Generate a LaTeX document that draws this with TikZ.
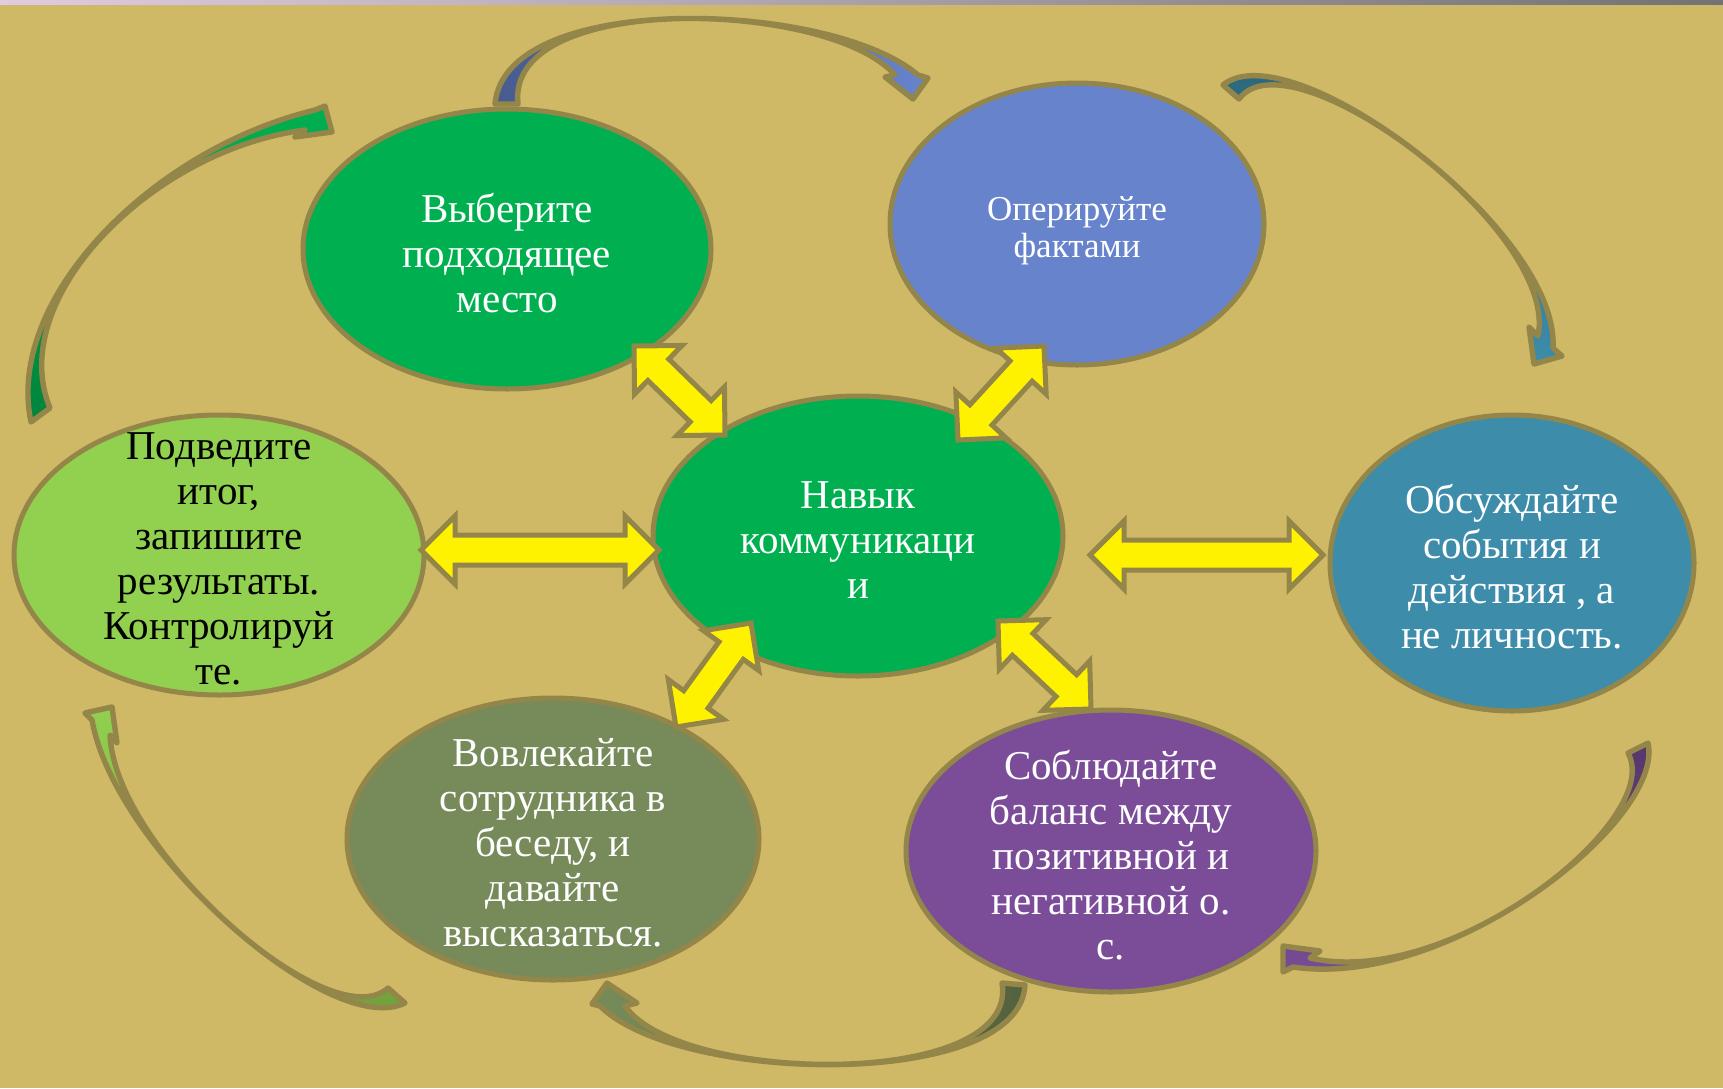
\documentclass[tikz,border=0pt]{standalone}
\usepackage{fontspec}
\setmainfont{Liberation Serif}
\usetikzlibrary{shapes.geometric,calc}
\definecolor{bg}{HTML}{CFB967}
\definecolor{rim}{HTML}{948649}
\definecolor{grn}{HTML}{00B050}
\definecolor{blu}{HTML}{6683CC}
\definecolor{lgrn}{HTML}{92D050}
\definecolor{tea}{HTML}{3C8CAA}
\definecolor{olv}{HTML}{778B5A}
\definecolor{purp}{HTML}{7B4D99}
\newcommand\yhead{17pt}
\newcommand\yshaft{7.5pt}
% yellow block arrow with two heads, tip to tip
\newcommand\yarr[2]{%
  \draw[yarrow] (#1)
    -- ($(#1)!\yhead!(#2)!\yhead!90:(#2)$)
    -- ($(#1)!\yhead!(#2)!\yshaft!90:(#2)$)
    -- ($(#2)!\yhead!(#1)!\yshaft!-90:(#1)$)
    -- ($(#2)!\yhead!(#1)!\yhead!-90:(#1)$)
    -- (#2)
    -- ($(#2)!\yhead!(#1)!\yhead!90:(#1)$)
    -- ($(#2)!\yhead!(#1)!\yshaft!90:(#1)$)
    -- ($(#1)!\yhead!(#2)!\yshaft!-90:(#2)$)
    -- ($(#1)!\yhead!(#2)!\yhead!-90:(#2)$)
    -- cycle;}
\begin{document}
\begin{tikzpicture}[x=0.5pt,y=-0.5pt,
  oval/.style={ellipse,draw=rim,line width=2.5pt,fill=#1,inner sep=0pt},
  txt/.style={align=center,text=white,yshift=-2pt,font=\fontsize{20.5}{22.5}\selectfont},
  yarrow/.style={draw=rim,fill=yellow,line width=2.5pt},
  curvy/.style={draw=rim,line width=2.7pt,line join=round}]
\useasboundingbox (0,0) rectangle (1723,1088);
\fill[bg] (0,0) rectangle (1723,1088);
\shade[left color=black!25!violet!20!white, right color=black!55] (0,0) rectangle (1723,4);
% curved arrows round the ring
\draw[curvy,left color=blu!70!black,right color=blu] (495,104) .. controls (505,-10) and (830,0) .. (918,75) -- (928,78) -- (913,99) -- (885,77) -- (895,75) .. controls (830,0) and (505,-10) .. (518,104) -- cycle;
\draw[curvy,top color=tea!70!black,bottom color=tea] (1223,85) .. controls (1290,30) and (1560,230) .. (1553,348) -- (1562,356) -- (1534,364) -- (1529,327) -- (1538,336) .. controls (1560,230) and (1290,30) .. (1239,99) -- cycle;
\draw[curvy,top color=purp!70!black,bottom color=purp] (1648,743) .. controls (1665,820) and (1450,990) .. (1293,967) -- (1283,972) -- (1283,946) -- (1320,951) -- (1310,958) .. controls (1450,990) and (1665,820) .. (1628,753) -- cycle;
\draw[curvy,right color=olv!70!black,left color=olv] (1025,985) .. controls (1020,1090) and (680,1085) .. (600,1006) -- (592,1004) -- (607,983) -- (637,1003) -- (625,1006) .. controls (680,1085) and (1020,1090) .. (1002,983) -- cycle;
\draw[curvy,bottom color=lgrn!75!black,top color=lgrn] (405,1003) .. controls (330,1040) and (115,850) .. (92,720) -- (85,713) -- (112,707) -- (117,743) -- (110,735) .. controls (115,850) and (330,1040) .. (388,988) -- cycle;
\draw[curvy,bottom color=grn!75!black,top color=grn] (31,422) .. controls (5,300) and (150,150) .. (315,110) -- (325,106) -- (332,132) -- (295,137) -- (305,130) .. controls (150,150) and (5,300) .. (50,408) -- cycle;
% ovals
\node[oval=grn,minimum width=205pt,minimum height=140pt,label={[txt]center:Навык\\коммуникаци\\и}] (0) at (858,536) {};
\node[oval=grn,minimum width=204pt,minimum height=140pt,label={[txt]center:Выберите\\подходящее\\место}] (1) at (507,249) {};
\node[oval=blu,minimum width=187pt,minimum height=141pt,label={[txt,yshift=-1.5pt,font=\fontsize{17.5}{18.5}\selectfont]center:Оперируйте\\фактами}] (2) at (1077,224) {};
\node[oval=tea,minimum width=182pt,minimum height=148pt,label={[txt]center:Обсуждайте\\события и\\действия , а\\не личность.}] (3) at (1512,563) {};
\node[oval=purp,minimum width=205pt,minimum height=141pt,label={[txt]center:Соблюдайте\\баланс между\\позитивной и\\негативной о.\\с.}] (4) at (1111,851) {};
\node[oval=olv,minimum width=206pt,minimum height=141pt,label={[txt]center:Вовлекайте\\сотрудника в\\беседу, и\\давайте\\высказаться.}] (5) at (553,839) {};
\node[oval=lgrn,minimum width=205pt,minimum height=140pt,label={[txt,text=black]center:Подведите\\итог,\\запишите\\результаты.\\Контролируй\\те.}] (6) at (219,555) {};
% yellow arrows to the middle
\coordinate (1a) at (634,346); \coordinate (1b) at (725,435);
\coordinate (2a) at (1044,346); \coordinate (2b) at (958,440);
\coordinate (3a) at (1090,555); \coordinate (3b) at (1323,555);
\coordinate (4a) at (998,621); \coordinate (4b) at (1091,709);
\coordinate (5a) at (751,623); \coordinate (5b) at (676,727);
\coordinate (6a) at (421,550); \coordinate (6b) at (659,550);
\yarr{1a}{1b}
\yarr{2a}{2b}
\yarr{3a}{3b}
\yarr{4a}{4b}
\yarr{5a}{5b}
\yarr{6a}{6b}
\end{tikzpicture}
\end{document}
